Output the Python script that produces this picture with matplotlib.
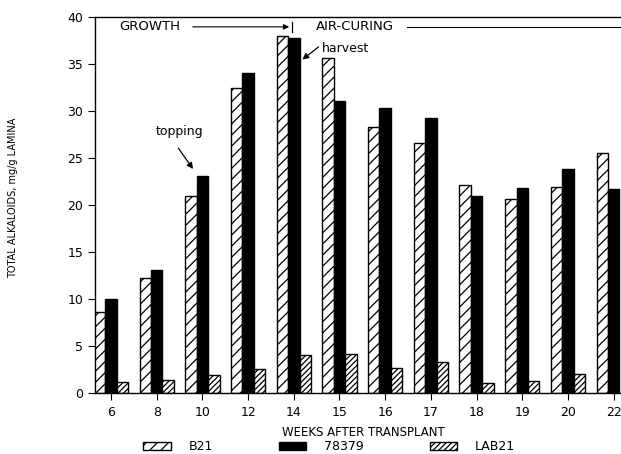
import numpy as np
import matplotlib
matplotlib.use("Agg")
import matplotlib.pyplot as plt

plt.rcParams['font.family'] = ['DejaVu Sans']
plt.rcParams['hatch.linewidth'] = 0.9

weeks = ["6", "8", "10", "12", "14", "15", "16", "17", "18", "19", "20", "22"]
b21 = [8.6, 12.3, 21.0, 32.4, 38.0, 35.6, 28.3, 26.6, 22.1, 20.7, 21.9, 25.5]
v78379 = [10.0, 13.1, 23.1, 34.1, 37.8, 31.1, 30.3, 29.3, 21.0, 21.8, 23.8, 21.7]
lab21 = [1.2, 1.4, 1.95, 2.6, 4.1, 4.15, 2.7, 3.3, 1.1, 1.35, 2.1, np.nan]

fig = plt.figure(figsize=(6.21, 4.54), dpi=100)
ax = fig.add_axes([95/621, 1-393.3/454, 526/621, 376.3/454])

x = np.arange(len(weeks))
w = 0.25
ax.bar(x - w, b21, w, color='white', edgecolor='black', hatch='///', linewidth=1.0, label='B21')
ax.bar(x, v78379, w, color='black', edgecolor='black', linewidth=1.0, label='78379')
ax.bar(x + w, lab21, w, color='white', edgecolor='black', hatch='//////', linewidth=1.0, label='LAB21')

ax.set_xlim(-0.35, 11.16)
ax.set_ylim(0, 40)
ax.set_yticks(np.arange(0, 41, 5))
ax.set_xticks(x)
ax.set_xticklabels(weeks)
ax.spines['right'].set_visible(False)
for s in ['left', 'top', 'bottom']:
    ax.spines[s].set_linewidth(1.0)
ax.tick_params(axis='both', direction='out', length=5, width=0.8, labelsize=9)
ax.tick_params(axis='x', pad=4)

ax.set_xlabel("WEEKS AFTER TRANSPLANT", fontsize=8.5, va='center')
ax.xaxis.set_label_coords(0.51, -0.103)
ax.set_ylabel("TOTAL ALKALOIDS, mg/g LAMINA", fontsize=7)
ax.yaxis.set_label_coords(-0.146, 0.52)

# phase annotations
ax.text(0.85, 38.95, "GROWTH", ha='center', va='center', fontsize=9.5)
ax.annotate("", xy=(3.96, 38.95), xytext=(1.73, 38.95),
            arrowprops=dict(arrowstyle='-|>', color='black', lw=0.8, mutation_scale=8))
ax.plot([3.96, 3.96], [38.4, 39.5], color='black', lw=0.9)
ax.text(5.34, 38.95, "AIR-CURING", ha='center', va='center', fontsize=9.5)
ax.plot([6.48, 11.16], [38.95, 38.95], color='black', lw=0.8, clip_on=False)

ax.text(1.51, 27.8, "topping", ha='center', va='center', fontsize=9)
ax.annotate("", xy=(1.83, 23.6), xytext=(1.44, 26.3),
            arrowprops=dict(arrowstyle='-|>', color='black', lw=0.9, mutation_scale=9))
ax.text(4.62, 36.6, "harvest", ha='left', va='center', fontsize=9)
ax.annotate("", xy=(4.14, 35.3), xytext=(4.59, 37.0),
            arrowprops=dict(arrowstyle='-|>', color='black', lw=0.9, mutation_scale=9))

leg = fig.legend(loc='center', bbox_to_anchor=(0.53, 0.016), ncol=3, frameon=False,
                 fontsize=9, handlelength=2.2, handleheight=0.65, handletextpad=1.4,
                 columnspacing=5.3, borderpad=0)

fig.savefig("out.png", dpi=100)
